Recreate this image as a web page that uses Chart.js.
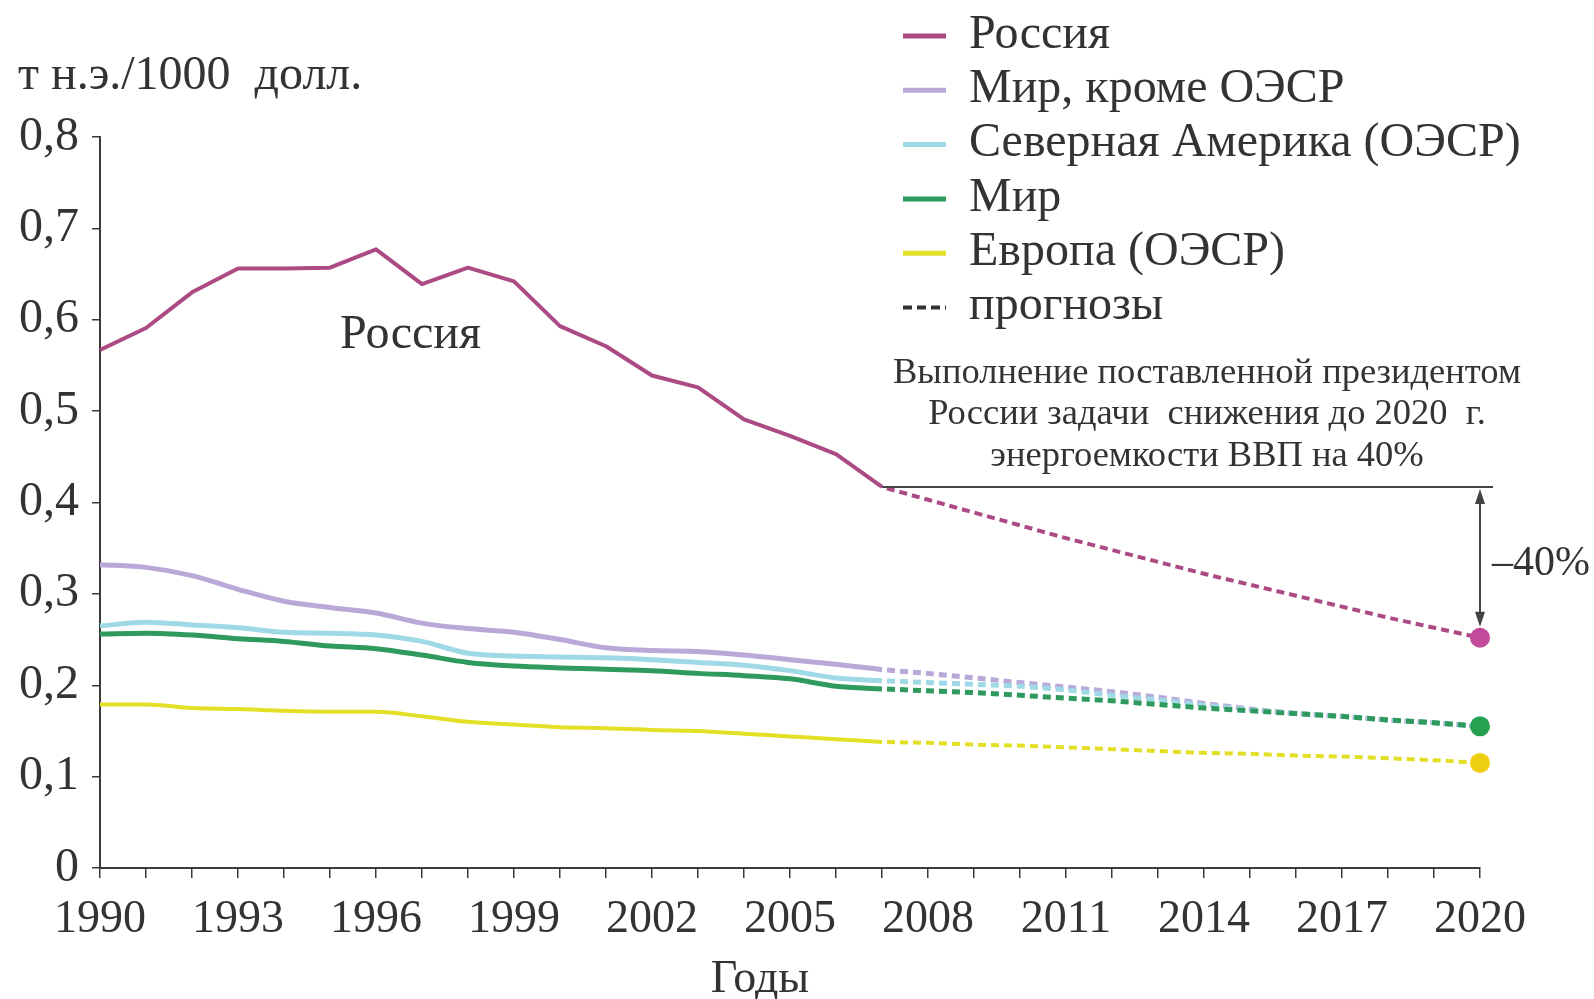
<!DOCTYPE html>
<html>
<head>
<meta charset="utf-8">
<script src="https://cdn.jsdelivr.net/npm/chart.js@4.4.1/dist/chart.umd.min.js"></script>
<style>
  html, body { margin: 0; padding: 0; background: #ffffff; }
  #wrap { width: 1594px; height: 999px; position: relative; }
  canvas { display: block; }
</style>
</head>
<body>
<div id="wrap"><canvas id="c" width="1594" height="999"></canvas></div>
<script>
// ---------- DATA ----------
const histYears = [1990,1991,1992,1993,1994,1995,1996,1997,1998,1999,2000,2001,2002,2003,2004,2005,2006,2007];
const forecastYears = [2007,2008,2009,2010,2011,2012,2013,2014,2015,2016,2017,2018,2019,2020];

const russia      = [0.567,0.591,0.630,0.656,0.656,0.657,0.677,0.639,0.657,0.642,0.593,0.571,0.539,0.526,0.491,0.473,0.453,0.417];
const worldNonOECD = [0.332,0.329,0.320,0.305,0.292,0.285,0.279,0.268,0.262,0.258,0.250,0.241,0.238,0.237,0.233,0.228,0.223,0.217];
const northAmerica = [0.265,0.269,0.266,0.263,0.258,0.257,0.255,0.248,0.235,0.232,0.231,0.230,0.228,0.225,0.222,0.216,0.208,0.205];
const world        = [0.256,0.257,0.255,0.251,0.248,0.243,0.240,0.233,0.225,0.221,0.219,0.2175,0.216,0.213,0.2105,0.207,0.199,0.196];
const europe       = [0.179,0.179,0.175,0.174,0.172,0.171,0.171,0.166,0.160,0.157,0.154,0.153,0.151,0.150,0.147,0.144,0.141,0.138];

const russiaF       = [0.417,0.403,0.389,0.375,0.361,0.348,0.335,0.322,0.310,0.298,0.286,0.274,0.263,0.252];
const worldNonOECDF = [0.217,0.213,0.208,0.203,0.198,0.193,0.187,0.180,0.174,0.169,0.166,0.162,0.159,0.155];
const northAmericaF = [0.205,0.203,0.201,0.199,0.195,0.189,0.184,0.178,0.173,0.169,0.166,0.162,0.159,0.155];
const worldF        = [0.196,0.194,0.192,0.189,0.186,0.183,0.179,0.175,0.172,0.169,0.166,0.162,0.159,0.155];
const europeF       = [0.138,0.137,0.135,0.134,0.132,0.130,0.128,0.126,0.125,0.123,0.122,0.120,0.118,0.115];

const xTickLabels = ['1990','1993','1996','1999','2002','2005','2008','2011','2014','2017','2020'];
const yTickLabels = ['0','0,1','0,2','0,3','0,4','0,5','0,6','0,7','0,8'];

const seriesNames = ['Россия','Мир, кроме ОЭСР','Северная Америка (ОЭСР)','Мир','Европа (ОЭСР)'];
const forecastName = 'прогнозы';
const unitLabel = 'т н.э./1000  долл.';
const xTitle = 'Годы';
const russiaLabel = 'Россия';
const noteLines = ['Выполнение поставленной президентом','России задачи  снижения до 2020  г.','энергоемкости ВВП на 40%'];
const deltaLabel = '–40%';

// ---------- STYLE ----------
const colors = {
  russia: '#ac4a84',
  russiaDot: '#c24c9c',
  nonOecd: '#b9a9d9',
  na: '#9fd9e6',
  world: '#2f9a5d',
  worldDot: '#27a151',
  europe: '#e3df26',
  europeDot: '#efcf12'
};
const FONT = "'Liberation Serif', 'Times New Roman', serif";
const TEXT = '#333333';

function pts(xs, ys) { return xs.map((x, i) => ({ x: x, y: ys[i] })); }
function lastDot(r) { return (ctx) => ctx.dataIndex === forecastYears.length - 1 ? r : 0; }

const datasets = [
  // forecasts (dashed)
  { label: seriesNames[0] + ' прогноз', data: pts(forecastYears, russiaF), borderColor: colors.russia, backgroundColor: colors.russiaDot,
    borderWidth: 4, borderDash: [8, 5], borderDashOffset: 8, pointRadius: lastDot(10), pointBorderWidth: 0, pointBackgroundColor: colors.russiaDot, order: 1, clip: false },
  { label: seriesNames[1] + ' прогноз', data: pts(forecastYears, worldNonOECDF), borderColor: colors.nonOecd,
    borderWidth: 5, borderDash: [8, 5], borderDashOffset: 8, pointRadius: 0, order: 4, clip: false },
  { label: seriesNames[2] + ' прогноз', data: pts(forecastYears, northAmericaF), borderColor: colors.na,
    borderWidth: 5, borderDash: [8, 5], borderDashOffset: 8, pointRadius: 0, order: 3, clip: false },
  { label: seriesNames[3] + ' прогноз', data: pts(forecastYears, worldF), borderColor: colors.world, backgroundColor: colors.worldDot,
    borderWidth: 5, borderDash: [8, 5], borderDashOffset: 8, pointRadius: lastDot(10), pointBorderWidth: 0, pointBackgroundColor: colors.worldDot, order: 2, clip: false },
  { label: seriesNames[4] + ' прогноз', data: pts(forecastYears, europeF), borderColor: colors.europe, backgroundColor: colors.europeDot,
    borderWidth: 4, borderDash: [8, 5], borderDashOffset: 8, pointRadius: lastDot(10), pointBorderWidth: 0, pointBackgroundColor: colors.europeDot, order: 2, clip: false },
  // history (solid)
  { label: seriesNames[0], data: pts(histYears, russia), borderColor: colors.russia, borderWidth: 4, pointRadius: 0, tension: 0, order: 1 },
  { label: seriesNames[1], data: pts(histYears, worldNonOECD), borderColor: colors.nonOecd, borderWidth: 5, pointRadius: 0, cubicInterpolationMode: 'monotone', order: 4 },
  { label: seriesNames[2], data: pts(histYears, northAmerica), borderColor: colors.na, borderWidth: 5, pointRadius: 0, cubicInterpolationMode: 'monotone', order: 3 },
  { label: seriesNames[3], data: pts(histYears, world), borderColor: colors.world, borderWidth: 5, pointRadius: 0, cubicInterpolationMode: 'monotone', order: 2 },
  { label: seriesNames[4], data: pts(histYears, europe), borderColor: colors.europe, borderWidth: 4, pointRadius: 0, cubicInterpolationMode: 'monotone', order: 2 }
];

const legendItems = [
  { text: seriesNames[0], color: colors.russia, dash: null },
  { text: seriesNames[1], color: colors.nonOecd, dash: null },
  { text: seriesNames[2], color: colors.na, dash: null },
  { text: seriesNames[3], color: colors.world, dash: null },
  { text: seriesNames[4], color: colors.europe, dash: null },
  { text: forecastName, color: '#333333', dash: [9, 5] }
];

const annotationPlugin = {
  id: 'annotations',
  afterDatasetsDraw(chart) {
    const { ctx, scales } = chart;
    const xs = scales.x, ys = scales.y;
    ctx.save();

    // target horizontal line from Russia 2007 level
    const yLevel = ys.getPixelForValue(russia[russia.length - 1]);
    const xStart = xs.getPixelForValue(histYears[histYears.length - 1]);
    const xEnd = xs.getPixelForValue(forecastYears[forecastYears.length - 1]);
    ctx.strokeStyle = '#444444';
    ctx.lineWidth = 2;
    ctx.beginPath();
    ctx.moveTo(xStart, yLevel);
    ctx.lineTo(xEnd + 13, yLevel);
    ctx.stroke();

    // double arrow down to the 2020 target
    const yTarget = ys.getPixelForValue(russiaF[russiaF.length - 1]);
    const top = yLevel + 2, bot = yTarget - 11;
    ctx.beginPath();
    ctx.moveTo(xEnd, top + 12);
    ctx.lineTo(xEnd, bot - 12);
    ctx.stroke();
    ctx.fillStyle = '#444444';
    ctx.beginPath();
    ctx.moveTo(xEnd, top); ctx.lineTo(xEnd - 5, top + 15); ctx.lineTo(xEnd + 5, top + 15); ctx.closePath(); ctx.fill();
    ctx.beginPath();
    ctx.moveTo(xEnd, bot); ctx.lineTo(xEnd - 5, bot - 15); ctx.lineTo(xEnd + 5, bot - 15); ctx.closePath(); ctx.fill();

    // texts
    ctx.fillStyle = TEXT;
    ctx.textBaseline = 'middle';
    ctx.textAlign = 'left';
    ctx.font = '42px ' + FONT;
    ctx.fillText(deltaLabel, xEnd + 12, (top + bot) / 2 + 6);

    ctx.font = '48px ' + FONT;
    ctx.fillText(unitLabel, 18, 76);

    ctx.font = '48px ' + FONT;
    ctx.fillText(russiaLabel, 340, 335);

    ctx.textAlign = 'center';
    ctx.font = '46px ' + FONT;
    ctx.fillText(xTitle, 760, 980);

    ctx.font = '36.5px ' + FONT;
    noteLines.forEach((t, i) => ctx.fillText(t, 1207, 373 + i * 41.5));

    // legend
    ctx.textAlign = 'left';
    ctx.font = '48px ' + FONT;
    legendItems.forEach((it, i) => {
      const y = 35 + i * 54.3;
      ctx.strokeStyle = it.color;
      ctx.lineWidth = it.dash ? 4 : 5;
      ctx.setLineDash(it.dash || []);
      ctx.beginPath();
      ctx.moveTo(903, y + 1);
      ctx.lineTo(946, y + 1);
      ctx.stroke();
      ctx.setLineDash([]);
      ctx.fillStyle = TEXT;
      ctx.fillText(it.text, 969, y);
    });
    ctx.restore();
  }
};

new Chart(document.getElementById('c'), {
  type: 'line',
  data: { datasets: datasets },
  options: {
    responsive: false,
    animation: false,
    devicePixelRatio: 1,
    layout: { padding: { top: 137, right: 114, left: 0, bottom: 0 } },
    plugins: { legend: { display: false }, tooltip: { enabled: false } },
    elements: { line: { borderCapStyle: 'butt', borderJoinStyle: 'round' } },
    scales: {
      x: {
        type: 'linear', min: 1990, max: 2020,
        afterFit: (s) => { s.height = 131; },
        border: { display: true, color: '#3a3a3a', width: 2 },
        grid: { display: true, drawOnChartArea: false, drawTicks: true, tickLength: 10, color: '#3a3a3a', lineWidth: 1.5 },
        ticks: {
          stepSize: 1, autoSkip: false, maxRotation: 0, minRotation: 0, padding: 14,
          color: TEXT, font: { family: FONT, size: 46 },
          callback: (v) => { const s = String(v); return xTickLabels.includes(s) ? s : ''; }
        },
        title: { display: false }
      },
      y: {
        type: 'linear', min: 0, max: 0.8,
        afterFit: (s) => { s.width = 100; },
        border: { display: true, color: '#3a3a3a', width: 2 },
        grid: { display: true, drawOnChartArea: false, drawTicks: true, tickLength: 8, color: '#3a3a3a', lineWidth: 1.5 },
        ticks: {
          stepSize: 0.1, padding: 13, color: TEXT, font: { family: FONT, size: 48 },
          callback: (v, i) => yTickLabels[i]
        }
      }
    }
  },
  plugins: [annotationPlugin]
});
</script>
</body>
</html>
